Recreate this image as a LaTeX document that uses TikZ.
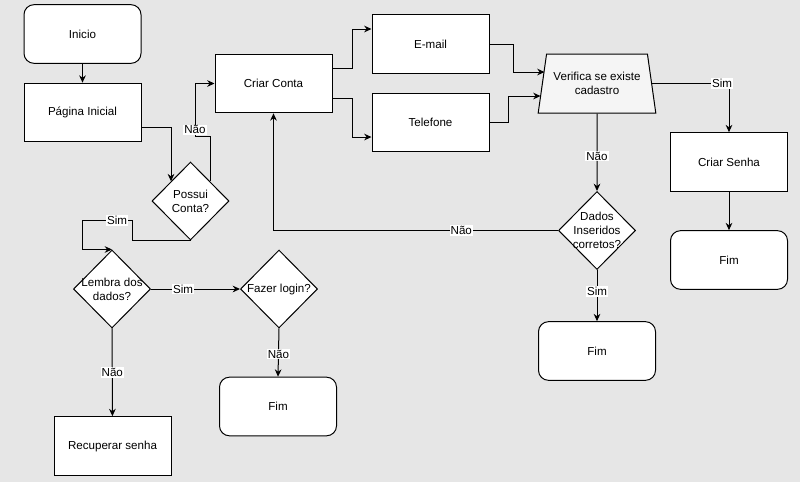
\documentclass[tikz,border=0pt]{standalone}
\usepackage{xcolor}
\usepackage{fontspec}
\setmainfont{Liberation Sans}
\usepackage{tikz}
\usetikzlibrary{arrows.meta,positioning,shapes.geometric}

\definecolor{bgcol}{HTML}{E6E6E6}
\definecolor{trapfill}{HTML}{F5F5F5}

\begin{document}
\begin{tikzpicture}[
  x=0.75pt, y=-0.75pt,
  every node/.style={font=\fontsize{8.7}{10.3}\selectfont},
  box/.style={draw,fill=white,line width=0.75pt,minimum width=87.75pt,minimum height=44pt,align=center},
  endbox/.style={box,rounded corners=7.5pt},
  decision/.style={draw,diamond,fill=white,line width=0.75pt,minimum width=57.75pt,minimum height=58.5pt,inner sep=-4pt,align=center},
  check/.style={draw,trapezium,trapezium angle=72,trapezium stretches=true,fill=trapfill,line width=0.75pt,minimum width=88.5pt,minimum height=44.25pt,inner sep=0pt,align=center},
  arr/.style={-{Stealth[length=5.5pt,width=5pt]},line width=0.75pt},
  lbl/.style={fill=white,inner sep=0.8pt}
]
  % fundo
  \fill[bgcol] (0,0) rectangle (800,482);
  \useasboundingbox (0,0) rectangle (800,482);

  \node[endbox] (inicio) at (82.5,34) {Inicio};
  \node[box] (pagina) at (82.5,112.5) {Página Inicial};
  \node[decision] (possui) at (190.5,201) {Possui\\Conta?};
  \node[box] (criar) at (273.5,83.5) {Criar Conta};
  \node[box] (email) at (430.5,44) {E-mail};
  \node[box] (telefone) at (430.5,122.5) {Telefone};
  \node[check] (verifica) at (597,83.5) {Verifica se existe\\cadastro};
  \node[box] (senha) at (729,162) {Criar Senha};
  \node[endbox] (fimsenha) at (729,260) {Fim};
  \node[decision] (dados) at (597,230.5) {Dados\\Inseridos\\corretos?};
  \node[endbox] (fimdados) at (597,351) {Fim};
  \node[decision] (lembra) at (112,289) {Lembra dos\\dados?};
  \node[decision] (login) at (279,289) {Fazer login?};
  \node[endbox] (fimlogin) at (278,406.5) {Fim};
  \node[box] (recuperar) at (112.5,446) {Recuperar senha};

  \draw[arr] (inicio) -- (pagina);
  \draw[arr] ([yshift=-11.6pt]pagina.east) -| (possui.north west);
  \draw[arr] (possui.north east) -- ++(0,-44.5) -- ++(-15,0) |- node[lbl,pos=0.065]{Não} (criar.west);
  \draw[arr] (possui.south) -- ++(-58.5,0) -- ++(0,-20) -- node[lbl,pos=0.3]{Sim} ++(-50,0) |- (lembra.north);
  \draw[arr] (lembra.east) -- node[lbl,pos=0.36]{Sim} (login.west);
  \draw[arr] (lembra) -- node[lbl]{Não} (recuperar);
  \draw[arr] (login.south) -- node[lbl,pos=0.53]{Não} (fimlogin.north);

  \draw[arr] ([yshift=10.9pt]criar.east) -- ++(20,0) |- ([yshift=11.25pt]email.west);
  \draw[arr] ([yshift=-11.6pt]criar.east) -- ++(20,0) |- ([yshift=-10.9pt]telefone.west);
  \draw[arr] (email.east) -- ++(24,0) |- ([yshift=8.6pt,xshift=2pt]verifica.west);
  \draw[arr] (telefone.east) -- ++(19,0) |- ([yshift=-9.4pt,xshift=-1pt]verifica.west);

  \draw[arr] (verifica.east) -| node[lbl,pos=0.455]{Sim} (senha.north);
  \draw[arr] (verifica.south) -- node[lbl,pos=0.55]{Não} (dados.north);
  \draw[arr] (senha) -- (fimsenha);
  \draw[arr] (dados.west) -| node[lbl,pos=0.17]{Não} (criar.south);
  \draw[arr] (dados.south) -- node[lbl,pos=0.42]{Sim} (fimdados.north);
\end{tikzpicture}
\end{document}
